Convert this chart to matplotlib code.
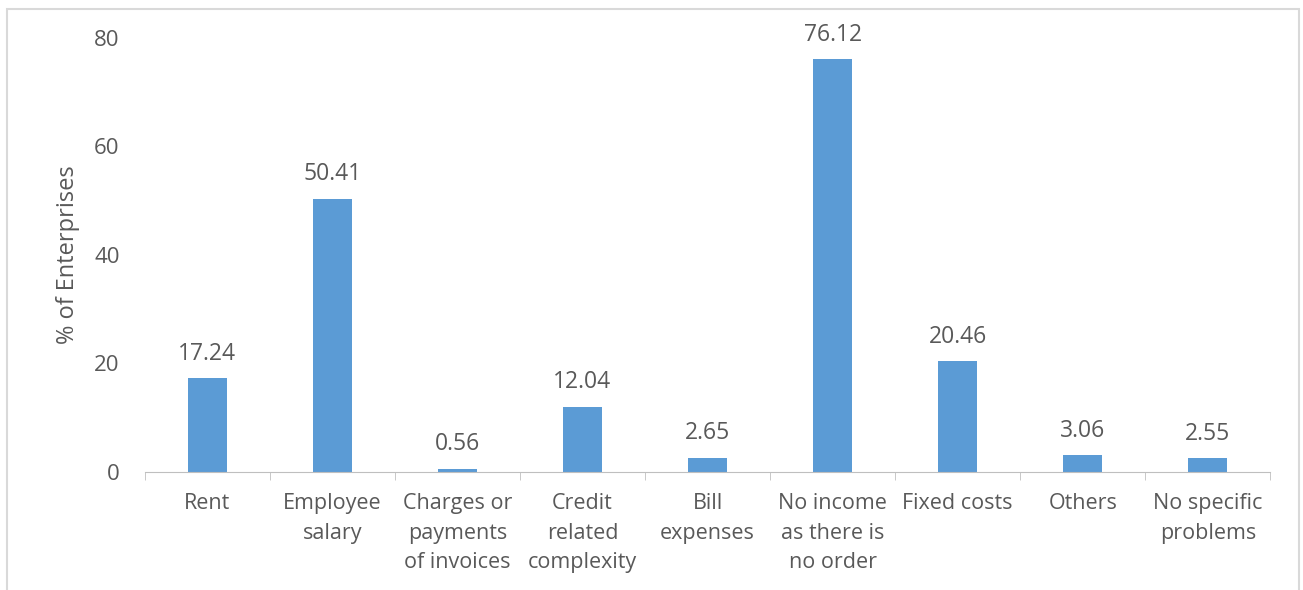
import numpy as np
import matplotlib.pyplot as plt
from matplotlib.patches import Rectangle

categories = ['Rent', 'Employee\nsalary', 'Charges or\npayments\nof invoices',
              'Credit\nrelated\ncomplexity', 'Bill\nexpenses',
              'No income\nas there is\nno order', 'Fixed costs', 'Others',
              'No specific\nproblems']
values = [17.24, 50.41, 0.56, 12.04, 2.65, 76.12, 20.46, 3.06, 2.55]
yticks = [0, 20, 40, 60, 80]

plt.rcParams['font.family'] = ['Open Sans', 'DejaVu Sans']
txt = '#595959'

fig = plt.figure(figsize=(13.03, 5.9), dpi=100)
ax = fig.add_axes([0.111, 0.2, 0.864, 0.7356])

x = np.arange(len(values))
ax.bar(x, values, width=0.31, color='#5B9BD5')
for xi, v in zip(x, values):
    ax.text(xi, v + 2.3, f'{v:.2f}', ha='center', va='bottom', fontsize=16.5, color=txt)

ax.set_xlim(-0.5, len(values) - 0.5)
ax.set_ylim(0, 80)
ax.set_yticks(yticks)
ax.set_xticks(x)
ax.set_xticklabels(categories, fontsize=15.5, color=txt, linespacing=1.55)
ax.set_xticks(np.arange(-0.5, len(values)), minor=True)
ax.tick_params(axis='x', which='major', length=0, pad=15)
ax.tick_params(axis='x', which='minor', length=6, color='#BFBFBF', direction='out')
ax.tick_params(axis='y', length=0, labelsize=16, labelcolor=txt, pad=18)
ax.set_ylabel('% of Enterprises', fontsize=17, color=txt, labelpad=10)

for s in ['top', 'right', 'left']:
    ax.spines[s].set_visible(False)
ax.spines['bottom'].set_color('#BFBFBF')

# outer chart border
fig.patches.append(Rectangle((0.005, -0.02), 0.992, 1.005, transform=fig.transFigure,
                             fill=False, edgecolor='#D9D9D9', linewidth=1.5))

fig.savefig('out.png', dpi=100)
